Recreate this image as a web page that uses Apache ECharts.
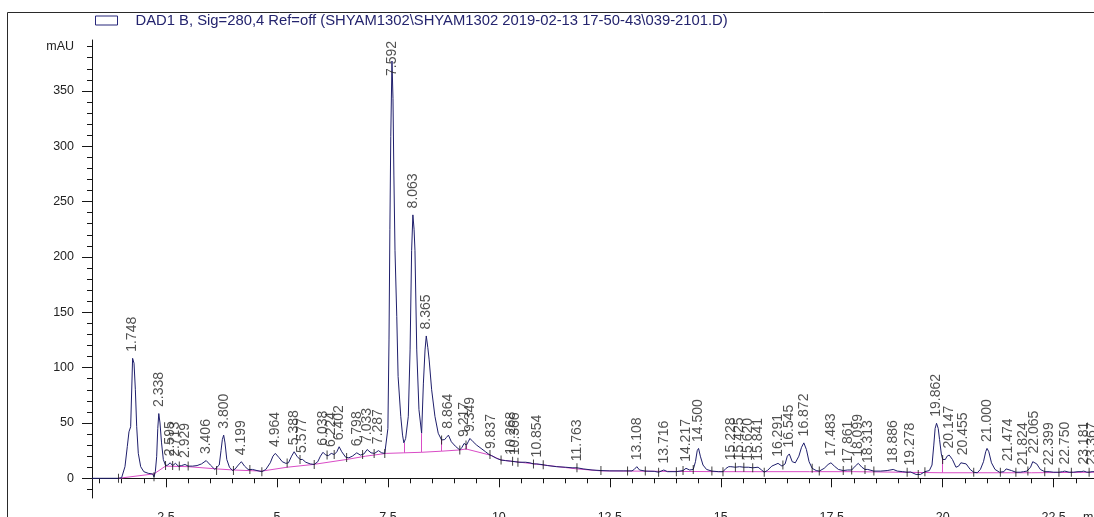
<!DOCTYPE html>
<html>
<head>
<meta charset="utf-8">
<script src="https://cdn.jsdelivr.net/npm/echarts@6/dist/echarts.min.js"></script>
<style>
html, body { margin: 0; padding: 0; background: #fff; }
#chart { width: 1094px; height: 517px; }
</style>
</head>
<body>
<div id="chart"></div>
<script>
// DAD1 B signal, 280 nm
const signalName = 'DAD1 B, Sig=280,4 Ref=off (SHYAM1302\\SHYAM1302 2019-02-13 17-50-43\\039-2101.D)';

// Integrated peaks: retention time label and apex height (mAU)
const peakLabels = ['1.748','2.338','2.595','2.713','2.929','3.406','3.800','4.199','4.964','5.388','5.577',
  '6.038','6.224','6.402','6.798','7.033','7.287','7.592','8.063','8.365','8.864','9.217','9.349','9.837',
  '10.268','10.366','10.854','11.763','13.108','13.716','14.217','14.500','15.228','15.425','15.620','15.841',
  '16.291','16.545','16.872','17.483','17.861','18.099','18.313','18.886','19.278','19.862','20.147','20.455',
  '21.000','21.474','21.824','22.065','22.399','22.750','23.181','23.367'];
const peakHeights = [108.4, 58.5, 14, 13.5, 12.5, 16, 39, 15, 22.5, 24, 17,
  23.5, 22.5, 28.5, 23, 26, 25, 377, 238, 128.6, 39, 31.5, 36, 20.5,
  15.5, 15, 13, 9.5, 10.5, 7.5, 9, 27, 10.5, 10.5, 10, 10,
  13.5, 22, 32, 14, 7.5, 13.5, 8, 8, 5.7, 49.7, 21, 15,
  27, 9.5, 6, 16.5, 6, 6.5, 6.5, 6];

// Detector trace between the apexes: [time (min), mAU]
const trace = [
  [0.83,0],[1.43,0],[1.50,0.5],[1.54,2],[1.576,10.5],[1.628,28.6],[1.666,42],[1.704,46.6],[1.734,88.8],
  [1.78,104],[1.81,80],[1.84,46.6],[1.876,22.6],[1.93,10.5],[2.0,6],[2.10,4.5],[2.20,3.9],[2.23,1.3],
  [2.26,6],[2.29,19.5],[2.315,45],[2.365,50],[2.40,32],[2.44,17],[2.49,11.5],[2.54,12],[2.65,11.5],
  [2.78,11],[2.85,11.5],[3.0,11],[3.1,11],[3.2,11.5],[3.3,13],[3.5,12],[3.6,8],[3.64,7],[3.7,12],
  [3.74,25],[3.77,35],[3.83,32],[3.87,17],[3.93,10],[4.0,7],[4.06,8.5],[4.13,12],[4.27,11],[4.35,8],
  [4.45,8],[4.55,7],[4.66,6],[4.75,8],[4.85,14],[4.91,20],[5.04,19],[5.12,15],[5.2,13.5],[5.26,14],
  [5.33,20],[5.45,20],[5.52,17],[5.65,14.5],[5.75,13],[5.84,12.5],[5.92,15],[5.98,20],[6.1,21],
  [6.16,20.5],[6.29,21.5],[6.35,24],[6.46,24],[6.55,19],[6.62,18.5],[6.7,20],[6.88,21],[6.96,22],
  [7.12,23],[7.2,22.5],[7.36,23],[7.43,22.5],[7.47,24],[7.50,45],[7.525,125],[7.545,225],[7.565,309],
  [7.615,343],[7.635,274],[7.66,206],[7.70,146],[7.73,92],[7.79,56],[7.83,39],[7.86,32],[7.90,36],
  [7.96,56],[8.0,116],[8.035,206],[8.09,225],[8.11,206],[8.15,116],[8.20,62],[8.26,40.7],[8.30,86],
  [8.337,116],[8.40,118],[8.43,107],[8.486,80],[8.56,56],[8.634,40.7],[8.71,34.6],[8.78,35],[8.82,37],
  [8.93,33],[9.02,29],[9.12,25.6],[9.17,28],[9.27,30],[9.31,33],[9.42,33],[9.5,30],[9.6,27],[9.7,24],
  [9.78,21.5],[9.95,18],[10.05,16.5],[10.15,16],[10.45,14.5],[10.6,14.5],[10.7,14],[10.78,13],
  [10.95,12.5],[11.1,11.5],[11.3,10.5],[11.5,10],[11.65,9.5],[11.9,8.5],[12.1,7.5],[12.3,7],[12.5,6.7],
  [12.8,6.7],[13.0,6.7],[13.05,8],[13.17,7.5],[13.3,6.5],[13.5,6.3],[13.6,5.5],[13.8,6],[14.0,6],
  [14.15,7],[14.3,7.5],[14.38,8],[14.43,15],[14.47,25],[14.54,20],[14.6,12],[14.68,8],[14.8,6.5],
  [14.95,6],[15.05,6],[15.12,9],[15.18,10.5],[15.33,10],[15.52,10],[15.72,9.5],[15.92,7.5],[15.98,5.5],
  [16.05,7],[16.15,11],[16.38,11],[16.45,13],[16.5,20],[16.61,15],[16.68,14],[16.76,20],[16.82,28],
  [16.93,26],[16.99,15],[17.06,9],[17.15,7],[17.22,6.5],[17.33,9],[17.42,12.5],[17.56,11],[17.65,8],
  [17.76,7],[17.95,7.5],[18.03,11],[18.18,10],[18.25,8],[18.45,6.5],[18.6,6.5],[18.75,7],[18.98,6.5],
  [19.1,6],[19.2,5.5],[19.4,3.5],[19.5,3.5],[19.6,6],[19.7,7],[19.76,12],[19.8,30],[19.83,45],
  [19.9,45],[19.93,35],[19.97,22],[20.0,17],[20.06,17],[20.1,20],[20.22,17],[20.3,10],[20.36,11],
  [20.41,14],[20.53,13],[20.62,8],[20.7,5.5],[20.78,5],[20.85,8],[20.92,15],[20.97,24],[21.04,24],
  [21.1,14],[21.18,8],[21.28,5.5],[21.38,6],[21.43,8.5],[21.55,7],[21.65,5.5],[21.75,5.5],[21.9,6.5],
  [21.98,10],[22.03,15],[22.12,13],[22.2,8],[22.3,6],[22.5,5.5],[22.62,5.5],[22.7,6],[22.85,5.5],
  [22.95,5.5],[23.05,6],[23.12,6],[23.25,5.5],[23.3,5.5],[23.41,6]
];

// Integration baseline
const baseline = [
  [1.43,0],[2.23,4],[2.49,11],[3.0,10.5],[3.64,8.5],[4.02,7.5],[4.66,6.5],[5.23,10],[5.82,12.5],
  [6.57,17],[7.0,20],[7.46,22.5],[7.86,23],[8.26,23.5],[8.71,24.5],[9.12,25.6],[9.26,26.5],[9.80,21],
  [10.05,16.5],[10.8,13],[11.76,8.5],[12.3,6.7],[13.0,6.5],[14.0,6.2],[15.0,6],[16.0,6],[17.0,6],
  [18.0,6],[19.0,5.5],[20.0,5],[21.0,5],[22.0,5],[23.41,5.5]
];

// Drop lines from valley to baseline: time, baseline level, valley level
const dropTimes = [7.86, 8.26, 8.71, 9.26, 20.0];
const dropBase  = [23, 23.5, 24.5, 26.5, 5];
const dropTop   = [32, 40.7, 34.6, 30, 17];

// Peak start / end marks
const eventMarks = [
  [1.43,0],[2.23,1.3],[2.49,11.5],[2.65,11.5],[2.80,11],[3.0,11],[3.64,7],[4.02,7],[4.39,8],[4.66,6],
  [5.23,13.8],[5.52,17],[5.84,12.5],[6.13,21],[6.29,21.5],[6.57,18.8],[6.93,21.5],[7.19,22.5],[7.43,22.5],
  [8.71,34.6],[9.12,25.6],[9.26,30],[9.80,21.5],[10.05,16.5],[10.31,15.3],[10.43,14.5],[10.78,13],
  [11.0,12.3],[11.76,9.5],[12.3,7],[12.9,6.7],[13.3,6.5],[13.6,5.5],[14.0,6],[14.15,7],[14.38,8],
  [14.8,6.5],[15.05,6],[15.33,10],[15.52,10],[15.72,9.5],[15.98,5.5],[16.4,12],[17.06,9],[17.22,6.5],
  [17.76,7],[17.95,7.5],[18.25,8],[18.45,6.5],[19.2,5.5],[19.45,3.5],[19.6,6],[20.0,17],[20.7,5.5],
  [21.3,5.5],[21.65,5.5],[21.92,6.5],[22.3,6],[22.62,5.5],[22.9,5.5],[23.3,5.5]
];

// Axis ticks
const xMajor = [2.5, 5, 7.5, 10, 12.5, 15, 17.5, 20, 22.5];
const yMajor = [0, 50, 100, 150, 200, 250, 300, 350];
const yUnitAt = 390;

const xMinor = [];
for (let t = 1; t <= 23.4; t += 0.5) xMinor.push(+t.toFixed(1));
const yMinor = [];
for (let v = -10; v <= 390; v += 10) yMinor.push(v);

const apexes = peakLabels.map((s, i) => [parseFloat(s), peakHeights[i]]);
const signal = trace.concat(apexes).sort((a, b) => a[0] - b[0]);

const FONT = 'Liberation Sans';
const X_MIN = 0.833, X_MAX = 23.41, Y_MIN = -17.8, Y_MAX = 396;

const chart = echarts.init(document.getElementById('chart'), null, { renderer: 'canvas' });

const axisColor = '#161616';
chart.setOption({
  animation: false,
  backgroundColor: '#fff',
  grid: { left: 92, right: 0, top: 40, bottom: 19, containLabel: false, outerBoundsMode: 'none' },
  legend: {
    left: 95, top: 13, padding: 0, itemWidth: 22, itemHeight: 9, selectedMode: false,
    data: [{ name: signalName, icon: 'rect',
      itemStyle: { color: '#fff', borderColor: '#26267a', borderWidth: 1 } }],
    textStyle: { color: '#24246e', fontSize: 14.8, fontFamily: FONT, padding: [0, 0, 0, 13] }
  },
  xAxis: [
    { type: 'value', min: X_MIN, max: X_MAX, position: 'bottom',
      axisLine: { lineStyle: { color: axisColor } }, splitLine: { show: false },
      axisTick: { customValues: xMajor, length: 9, lineStyle: { color: axisColor } },
      axisLabel: { customValues: xMajor, margin: 13, color: '#222', fontSize: 12.5, fontFamily: FONT,
        formatter: v => String(v) } },
    { type: 'value', min: X_MIN, max: X_MAX, position: 'bottom',
      axisLine: { show: false }, splitLine: { show: false },
      axisTick: { customValues: xMinor, length: 5, lineStyle: { color: axisColor } },
      axisLabel: { show: false } }
  ],
  yAxis: [
    { type: 'value', min: Y_MIN, max: Y_MAX, position: 'left',
      axisLine: { show: true, lineStyle: { color: axisColor } }, splitLine: { show: false },
      axisTick: { customValues: yMajor, length: 10, lineStyle: { color: axisColor } },
      axisLabel: { customValues: yMajor.concat([yUnitAt]), margin: 18, color: '#222', fontSize: 12.5,
        fontFamily: FONT, formatter: v => (v === yUnitAt ? 'mAU' : String(v)) } },
    { type: 'value', min: Y_MIN, max: Y_MAX, position: 'left',
      axisLine: { show: false }, splitLine: { show: false },
      axisTick: { customValues: yMinor, length: 5, lineStyle: { color: axisColor } },
      axisLabel: { show: false } }
  ],
  graphic: [
    { type: 'rect', z: -10, silent: true,
      shape: { x: 7.5, y: 12.5, width: 1200, height: 600 },
      style: { fill: 'none', stroke: '#2a2a2a', lineWidth: 1 } },
    { type: 'text', left: 1083, top: 511, silent: true,
      style: { text: 'min', fill: '#222', font: '12.5px "Liberation Sans"' } }
  ],
  series: [
    { name: signalName, type: 'line', data: signal, showSymbol: false, symbol: 'none',
      lineStyle: { color: '#1f1f6c', width: 1 }, z: 4 },
    { name: 'baseline', type: 'line', data: baseline, showSymbol: false, symbol: 'none',
      lineStyle: { color: '#d94cc6', width: 1 }, z: 3,
      markLine: { symbol: 'none', silent: true, label: { show: false },
        lineStyle: { color: '#d94cc6', width: 1, type: 'solid' },
        data: dropTimes.map((t, i) => [{ coord: [t, dropBase[i]] }, { coord: [t, dropTop[i]] }]) } },
    { name: 'marks', type: 'scatter', data: eventMarks, symbol: 'rect', symbolSize: [1, 9],
      itemStyle: { color: '#111' }, z: 5, silent: true },
    { name: 'peaks', type: 'scatter', silent: true, z: 6,
      data: apexes.map((p, i) => ({ value: p, name: peakLabels[i] })),
      symbolSize: 1, itemStyle: { color: 'rgba(0,0,0,0)' },
      label: { show: true, position: 'top', distance: 6, rotate: 90, align: 'left', verticalAlign: 'middle',
        formatter: p => p.name, color: '#262626', fontSize: 14, fontFamily: FONT },
      labelLayout: p => (p.labelRect.y < 41 ? { y: 41 + p.labelRect.height } : {}) }
  ]
});
</script>
</body>
</html>
